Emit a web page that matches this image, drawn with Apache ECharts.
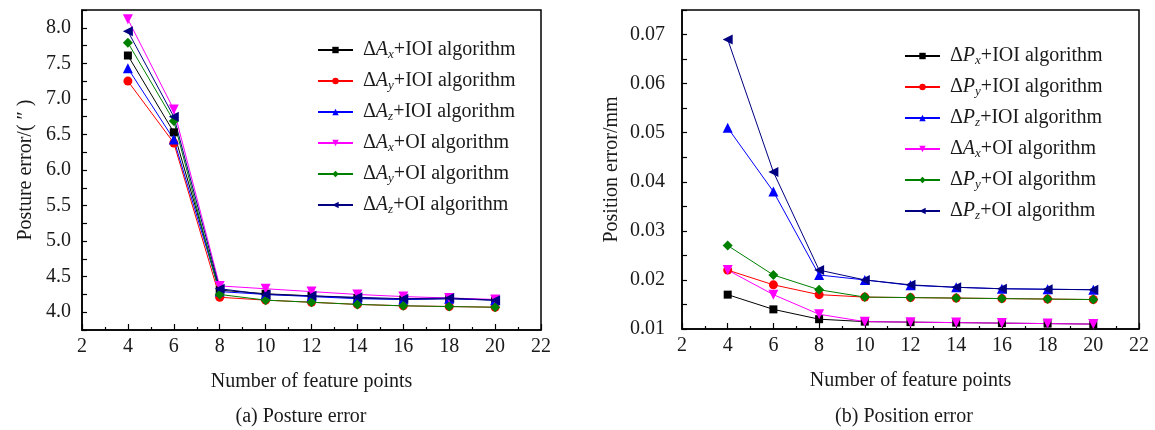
<!DOCTYPE html>
<html>
<head>
<meta charset="utf-8">
<script src="https://cdn.jsdelivr.net/npm/echarts@6/dist/echarts.min.js"></script>
<style>
    html, body { margin: 0; padding: 0; background: #fff; }
    #main { width: 1155px; height: 430px; }
</style>
</head>
<body>
<div id="main"></div>
<script>
var xPoints = [4, 6, 8, 10, 12, 14, 16, 18, 20];

// (a) posture error
var postureAxIOI = [7.61, 6.53, 4.31, 4.26, 4.23, 4.20, 4.18, 4.19, 4.17];
var postureAyIOI = [7.25, 6.38, 4.21, 4.17, 4.14, 4.11, 4.09, 4.08, 4.07];
var postureAzIOI = [7.43, 6.43, 4.29, 4.25, 4.22, 4.19, 4.18, 4.19, 4.17];
var postureAxOI = [8.12, 6.85, 4.37, 4.33, 4.29, 4.25, 4.22, 4.20, 4.18];
var postureAyOI = [7.79, 6.69, 4.25, 4.17, 4.14, 4.11, 4.09, 4.08, 4.07];
var postureAzOI = [7.95, 6.75, 4.33, 4.25, 4.23, 4.21, 4.19, 4.20, 4.17];

// (b) position error
var positionPxIOI = [0.017, 0.014, 0.012, 0.0115, 0.0114, 0.0113, 0.0112, 0.0111, 0.011];
var positionPyIOI = [0.022, 0.019, 0.017, 0.0165, 0.0164, 0.0163, 0.0162, 0.0161, 0.016];
var positionPzIOI = [0.051, 0.038, 0.021, 0.020, 0.0189, 0.0185, 0.0182, 0.0181, 0.018];
var positionAxOI = [0.022, 0.017, 0.013, 0.0115, 0.0114, 0.0113, 0.0112, 0.0111, 0.011];
var positionPyOI = [0.027, 0.021, 0.018, 0.0165, 0.0164, 0.0163, 0.0162, 0.0161, 0.016];
var positionPzOI = [0.069, 0.042, 0.022, 0.020, 0.019, 0.0185, 0.0182, 0.0181, 0.018];

// legend labels: [symbol letter, subscript, suffix]
var postureLabels = [['A', 'x', '+IOI algorithm'], ['A', 'y', '+IOI algorithm'], ['A', 'z', '+IOI algorithm'],
    ['A', 'x', '+OI algorithm'], ['A', 'y', '+OI algorithm'], ['A', 'z', '+OI algorithm']];
var positionLabels = [['P', 'x', '+IOI algorithm'], ['P', 'y', '+IOI algorithm'], ['P', 'z', '+IOI algorithm'],
    ['A', 'x', '+OI algorithm'], ['P', 'y', '+OI algorithm'], ['P', 'z', '+OI algorithm']];

var FONT = '"Liberation Serif", "Times New Roman", serif';
var TXT = '#1a1a1a';
var colors = ['#000000', '#ff0000', '#0000ff', '#ff00ff', '#008000', '#000080'];
var symbols = ['rect', 'circle', 'triangle', 'path://M0,0 L10,0 L5,9 Z', 'diamond', 'path://M10,0 L10,10 L1,5 Z'];
var symbolSizes = [8, 9, 10, 10, 10, 10];

function pairs(ys) {
    return xPoints.map(function (x, i) { return [x, ys[i]]; });
}

function makeSeries(prefix, arrays, gridIdx) {
    return arrays.map(function (ys, i) {
        return {
            name: prefix + i,
            type: 'line',
            xAxisIndex: gridIdx,
            yAxisIndex: gridIdx,
            data: pairs(ys),
            symbol: symbols[i],
            symbolSize: symbolSizes[i],
            color: colors[i],
            lineStyle: { width: 1, color: colors[i] },
            itemStyle: { color: colors[i] },
            animation: false
        };
    });
}

function legendFormatter(labels, prefix) {
    return function (name) {
        var l = labels[parseInt(name.substring(prefix.length), 10)];
        return '{n|Δ}{i|' + l[0] + '}{s|' + l[1] + '}{n|' + l[2] + '}';
    };
}

var rich = {
    n: { fontFamily: FONT, fontSize: 20, color: TXT },
    i: { fontFamily: FONT, fontSize: 20, fontStyle: 'italic', color: TXT },
    s: { fontFamily: FONT, fontSize: 13, fontStyle: 'italic', color: TXT, padding: [9, 0, 0, 0] }
};

function xAxisCfg(gridIdx) {
    return {
        type: 'value', gridIndex: gridIdx,
        min: 2, max: 22, interval: 2,
        name: 'Number of feature points', nameLocation: 'middle', nameGap: 42,
        nameTextStyle: { fontFamily: FONT, fontSize: 20, color: TXT },
        axisLine: { onZero: false, lineStyle: { color: '#000', width: 1.5 } },
        axisTick: { inside: true, length: 6, lineStyle: { color: '#000', width: 1.2 } },
        minorTick: { show: true, splitNumber: 2, length: 3, lineStyle: { color: '#000', width: 1.2 } },
        axisLabel: { fontFamily: FONT, fontSize: 20, color: TXT, margin: 7 },
        splitLine: { show: false }
    };
}

var option = {
    backgroundColor: '#fff',
    grid: [
        { left: 82, top: 10, width: 459, height: 320, show: true, borderColor: '#000', borderWidth: 1.5 },
        { left: 682, top: 10, width: 457, height: 319, show: true, borderColor: '#000', borderWidth: 1.5 }
    ],
    xAxis: [xAxisCfg(0), xAxisCfg(1)],
    yAxis: [
        {
            type: 'value', gridIndex: 0,
            min: 3.75, max: 8.25, interval: 0.25,
            name: 'Posture error/( ″ )', nameLocation: 'middle', nameGap: 46,
            nameTextStyle: { fontFamily: FONT, fontSize: 20, color: TXT },
            axisLine: { lineStyle: { color: '#000', width: 1.5 } },
            axisTick: { inside: true, length: 5, lineStyle: { color: '#000', width: 1.2 } },
            axisLabel: {
                fontFamily: FONT, fontSize: 20, color: TXT, margin: 11,
                formatter: function (v) {
                    return Math.round(v * 100) % 50 === 0 ? v.toFixed(1) : '';
                }
            },
            splitLine: { show: false }
        },
        {
            type: 'value', gridIndex: 1,
            min: 0.01, max: 0.075, interval: 0.005,
            name: 'Position error/mm', nameLocation: 'middle', nameGap: 60,
            nameTextStyle: { fontFamily: FONT, fontSize: 20, color: TXT },
            axisLine: { lineStyle: { color: '#000', width: 1.5 } },
            axisTick: { inside: true, length: 5, lineStyle: { color: '#000', width: 1.2 } },
            axisLabel: {
                fontFamily: FONT, fontSize: 20, color: TXT, margin: 17,
                formatter: function (v) {
                    return Math.round(v * 1000) % 10 === 0 ? v.toFixed(2) : '';
                }
            },
            splitLine: { show: false }
        }
    ],
    legend: [
        {
            orient: 'vertical', left: 317, top: 39, padding: 0,
            itemWidth: 35, itemHeight: 8, itemGap: 9,
            data: ['a0', 'a1', 'a2', 'a3', 'a4', 'a5'],
            formatter: legendFormatter(postureLabels, 'a'),
            textStyle: { rich: rich, lineHeight: 22, padding: [0, 0, 0, 5] }
        },
        {
            orient: 'vertical', left: 904, top: 45, padding: 0,
            itemWidth: 35, itemHeight: 8, itemGap: 9,
            data: ['b0', 'b1', 'b2', 'b3', 'b4', 'b5'],
            formatter: legendFormatter(positionLabels, 'b'),
            textStyle: { rich: rich, lineHeight: 22, padding: [0, 0, 0, 5] }
        }
    ],
    graphic: [
        { type: 'text', x: 301, y: 417, style: { text: '(a) Posture error', align: 'center', verticalAlign: 'middle', font: '20px ' + FONT, fill: TXT } },
        { type: 'text', x: 904, y: 417, style: { text: '(b) Position error', align: 'center', verticalAlign: 'middle', font: '20px ' + FONT, fill: TXT } }
    ],
    series: makeSeries('a', [postureAxIOI, postureAyIOI, postureAzIOI, postureAxOI, postureAyOI, postureAzOI], 0)
        .concat(makeSeries('b', [positionPxIOI, positionPyIOI, positionPzIOI, positionAxOI, positionPyOI, positionPzOI], 1))
};

var myChart = echarts.init(document.getElementById('main'));
myChart.setOption(option);
</script>
</body>
</html>
